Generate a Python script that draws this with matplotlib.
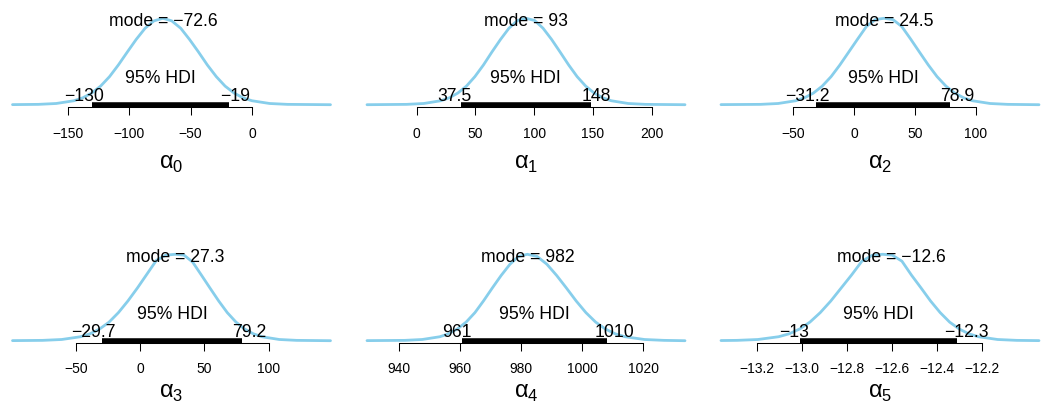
import numpy as np
import matplotlib
matplotlib.use('Agg')
import matplotlib.pyplot as plt

plt.rcParams['font.family'] = ['Liberation Sans', 'DejaVu Sans']
plt.rcParams['mathtext.fontset'] = 'custom'
plt.rcParams['mathtext.rm'] = 'Liberation Sans'

# posterior density curves (x in data units, y relative to peak)
a0_x = [-195.2, -174.1, -159.6, -145.1, -137.9, -130.6, -123.4, -116.1, -108.9, -101.6, -94.4, -87.1, -79.9,
        -72.6, -65.4, -58.1, -50.9, -43.6, -36.4, -29.1, -21.9, -14.6, -7.4, -0.1, 14.4, 28.9, 64.0]
a0_y = [0.001, 0.004, 0.014, 0.046, 0.08, 0.135, 0.215, 0.325, 0.46, 0.61, 0.755, 0.885, 0.97,
        1.0, 0.97, 0.885, 0.755, 0.61, 0.46, 0.325, 0.215, 0.135, 0.08, 0.046, 0.014, 0.004, 0.0]

a1_x = [-42.3, -8.5, 6.0, 20.5, 27.8, 35.0, 42.3, 49.5, 56.8, 64.0, 71.3, 78.5, 85.8,
        93.0, 100.3, 107.5, 114.8, 122.0, 129.3, 136.5, 143.8, 151.0, 158.3, 165.5, 180.0, 194.5, 228.3]
a1_y = [0.0, 0.004, 0.014, 0.046, 0.08, 0.135, 0.215, 0.325, 0.46, 0.61, 0.755, 0.885, 0.975,
        1.0, 0.975, 0.885, 0.755, 0.61, 0.46, 0.325, 0.215, 0.135, 0.08, 0.046, 0.014, 0.004, 0.0]

a2_x = [-109.4, -77.0, -62.5, -48.0, -40.8, -33.5, -26.3, -19.0, -11.8, -4.5, 2.8, 10.0, 17.3,
        24.5, 31.8, 39.0, 46.3, 53.5, 60.8, 68.0, 75.3, 82.5, 89.8, 97.0, 111.5, 126.0, 151.7]
a2_y = [0.001, 0.004, 0.014, 0.046, 0.08, 0.135, 0.215, 0.325, 0.46, 0.61, 0.76, 0.905, 0.985,
        1.0, 0.985, 0.905, 0.76, 0.61, 0.46, 0.325, 0.215, 0.135, 0.08, 0.046, 0.014, 0.004, 0.0]

a3_x = [-99.5, -76.0, -61.2, -46.5, -39.1, -31.7, -24.3, -17.0, -9.6, -2.2, 5.2, 12.6, 19.9,
        27.3, 34.1, 40.8, 47.6, 54.3, 61.1, 67.8, 74.6, 81.3, 88.1, 94.8, 108.3, 121.8, 148.2]
a3_y = [0.001, 0.004, 0.014, 0.046, 0.08, 0.135, 0.215, 0.325, 0.46, 0.61, 0.77, 0.93, 0.99,
        1.0, 0.99, 0.91, 0.76, 0.61, 0.46, 0.325, 0.215, 0.135, 0.08, 0.046, 0.014, 0.004, 0.0]

a4_x = [929.4, 941.8, 947.5, 953.3, 956.1, 959.0, 961.9, 964.8, 967.6, 970.5, 973.4, 976.3, 979.1,
        982.0, 985.2, 988.4, 991.6, 994.8, 998.0, 1001.2, 1004.4, 1007.6, 1010.8, 1014.0, 1020.4, 1026.8, 1033.7]
a4_y = [0.001, 0.004, 0.014, 0.046, 0.08, 0.135, 0.215, 0.325, 0.46, 0.61, 0.755, 0.885, 0.975,
        1.0, 0.975, 0.885, 0.755, 0.61, 0.46, 0.325, 0.215, 0.135, 0.08, 0.046, 0.014, 0.004, 0.0]

a5_x = [-13.359, -13.288, -13.195, -13.103, -13.056, -13.010, -12.964, -12.918, -12.871, -12.825, -12.779, -12.733, -12.686,
        -12.640, -12.598, -12.555, -12.513, -12.470, -12.428, -12.385, -12.343, -12.300, -12.258, -12.215, -12.130, -12.045, -11.946]
a5_y = [0.002, 0.004, 0.014, 0.046, 0.08, 0.135, 0.215, 0.325, 0.46, 0.61, 0.76, 0.92, 0.99,
        1.0, 0.99, 0.92, 0.76, 0.61, 0.46, 0.325, 0.215, 0.135, 0.08, 0.046, 0.014, 0.004, 0.001]

curves_x = [a0_x, a1_x, a2_x, a3_x, a4_x, a5_x]
curves_y = [a0_y, a1_y, a2_y, a3_y, a4_y, a5_y]

param_labels = ['α$_0$', 'α$_1$', 'α$_2$', 'α$_3$', 'α$_4$', 'α$_5$']
modes = [-72.6, 93.0, 24.5, 27.3, 982.0, -12.6]
hdi_low = [-130.0, 37.5, -31.2, -29.7, 960.7, -13.01]
hdi_high = [-19.0, 148.0, 78.9, 79.2, 1008.0, -12.31]
ticks = [
    [-150, -100, -50, 0],
    [0, 50, 100, 150, 200],
    [-50, 0, 50, 100],
    [-50, 0, 50, 100],
    [940, 960, 980, 1000, 1020],
    [-13.2, -13.0, -12.8, -12.6, -12.4, -12.2],
]
tick_fmt = ['{:g}', '{:g}', '{:g}', '{:g}', '{:g}', '{:.1f}']


def sig3(v):
    s = f"{float(f'{v:.3g}'):g}"
    return s.replace('-', '\u2212')


W, H = 1045, 406
fig = plt.figure(figsize=(W / 100, H / 100), dpi=100)

col_left = [12.5, 367, 721]
ax_w = 318
row_bottom = [108.3, 344.3]
ax_h = 106.3
tick_pad = [7.5, 6.5]
label_y = [-0.42, -0.355]

skyblue = '#87CEEB'
hdi_texts = []

for i in range(6):
    r, c = divmod(i, 3)
    ax = fig.add_axes([col_left[c] / W, 1 - row_bottom[r] / H, ax_w / W, ax_h / H])
    x = np.array(curves_x[i])
    y = np.array(curves_y[i])
    ax.plot(x, y, color=skyblue, lw=2, solid_capstyle='round', clip_on=False)
    ax.set_xlim(x.min(), x.max())
    ax.set_ylim(-0.03, 1.2)

    # HDI bar and labels
    ax.plot([hdi_low[i], hdi_high[i]], [0, 0], color='black', lw=4, solid_capstyle='butt')
    ax.text((hdi_low[i] + hdi_high[i]) / 2, 0.265, '95% HDI', ha='center', va='baseline', fontsize=12.7)
    t_lo = ax.text(hdi_low[i], 0.058, sig3(hdi_low[i]), ha='left', va='baseline', fontsize=12.7)
    t_hi = ax.text(hdi_high[i], 0.058, sig3(hdi_high[i]), ha='left', va='baseline', fontsize=12.7)
    hdi_texts.append((ax, t_lo, hdi_low[i], 0.7))
    hdi_texts.append((ax, t_hi, hdi_high[i], 0.3))

    ax.text(modes[i], 0.925, 'mode = ' + sig3(modes[i]), ha='center', va='baseline', fontsize=12.7)

    for s in ['top', 'right', 'left']:
        ax.spines[s].set_visible(False)
    ax.spines['bottom'].set_linewidth(0.75)
    ax.spines['bottom'].set_bounds(ticks[i][0], ticks[i][-1])
    ax.set_yticks([])
    ax.set_xticks(ticks[i])
    ax.set_xticklabels([tick_fmt[i].format(v).replace('-', '\u2212') for v in ticks[i]])
    ax.tick_params(axis='x', direction='out', length=6, width=0.75, pad=tick_pad[r], labelsize=10)
    ax.set_xlabel(param_labels[i], fontsize=17)
    ax.xaxis.set_label_coords(0.5, label_y[r])
    ax.patch.set_alpha(0)

# shift HDI end labels so the value sits 70% / 30% along the label
fig.canvas.draw()
renderer = fig.canvas.get_renderer()
for ax, t, xv, frac in hdi_texts:
    bb = t.get_window_extent(renderer)
    inv = ax.transData.inverted()
    x0 = inv.transform((bb.x0, 0))[0]
    x1 = inv.transform((bb.x1, 0))[0]
    t.set_x(xv - frac * (x1 - x0))

fig.savefig('out.png', dpi=100)
